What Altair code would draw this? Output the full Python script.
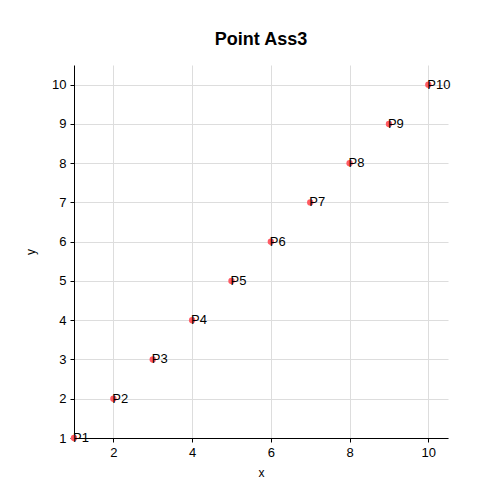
import altair as alt
import pandas as pd

xs = [1, 2, 3, 4, 5, 6, 7, 8, 9, 10]
ys = [1, 2, 3, 4, 5, 6, 7, 8, 9, 10]
names = ["P1", "P2", "P3", "P4", "P5", "P6", "P7", "P8", "P9", "P10"]

df = pd.DataFrame({"x": xs, "y": ys, "name": names})

xsc = alt.Scale(domain=[1, 10.5], nice=False, zero=False)
ysc = alt.Scale(domain=[1, 10.5], nice=False, zero=False)

base = alt.Chart(df).encode(
    x=alt.X("x:Q", scale=xsc, title="x", axis=alt.Axis(values=[2, 4, 6, 8, 10])),
    y=alt.Y("y:Q", scale=ysc, title="y", axis=alt.Axis(values=list(range(1, 11)))),
)

pts = base.mark_circle(size=40, color="#ff5a64", opacity=1)
labels = base.mark_text(align="left", dx=-1, fontSize=13, color="black",
                        font="Liberation Sans").encode(text="name:N")

chart = alt.layer(pts, labels).properties(
    width=374, height=373,
    autosize=alt.AutoSizeParams(type="none"),
    padding={"left": 66, "top": 57, "right": 40, "bottom": 50},
    title=alt.TitleParams("Point Ass3", fontSize=18, fontWeight="bold",
                          font="Liberation Sans", offset=16),
).configure_axis(
    grid=True, gridColor="#dddddd", domainColor="black", tickColor="black",
    labelColor="black", titleColor="black", labelFont="Liberation Sans",
    titleFont="Liberation Sans", labelFontSize=13, titleFontSize=12,
    titleFontWeight="normal", tickSize=4, labelPadding=4,
).configure_axisX(
    titlePadding=8,
).configure_axisY(
    titlePadding=14,
).configure_view(stroke=None)

chart.save("out.html", embed_options={"renderer": "svg", "actions": False})
